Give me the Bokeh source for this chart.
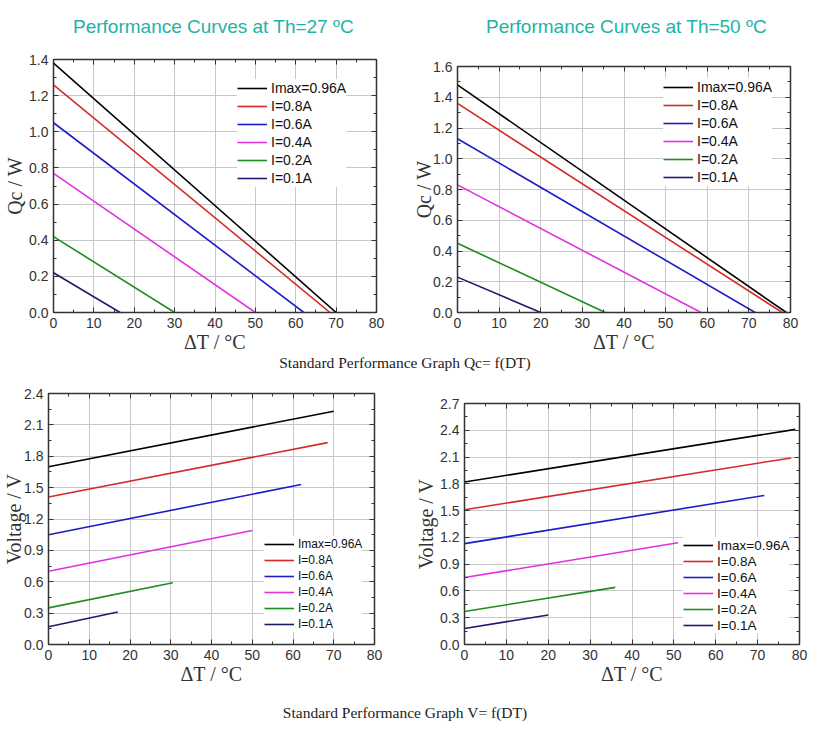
from bokeh.plotting import figure
from bokeh.layouts import column, row
from bokeh.models import (Range1d, FixedTicker, Legend, LegendItem, Div,
                          LinearAxis, PrintfTickFormatter, CustomJSTickFormatter)
from bokeh.embed import file_html
from bokeh.resources import INLINE

# ---------------- data ----------------
series_labels = ["Imax=0.96A", "I=0.8A", "I=0.6A", "I=0.4A", "I=0.2A", "I=0.1A"]
series_colors = ["#000000", "#d42a2a", "#1c1cc8", "#e030e0", "#1e8c1e", "#1a1a6e"]

# Qc = f(DT), Th = 27 C : Qc at DT=0 and DT where Qc reaches 0
qc0_27 = [1.38, 1.26, 1.05, 0.77, 0.42, 0.22]
qc_dtmax_27 = [70, 68.5, 62, 50, 30, 16.5]
# Qc = f(DT), Th = 50 C
qc0_50 = [1.48, 1.36, 1.13, 0.83, 0.45, 0.23]
qc_dtmax_50 = [79, 78, 71.5, 58.5, 35.5, 20]

# V = f(DT), Th = 27 C : voltage at DT=0 and at the end DT
v0_27 = [1.70, 1.41, 1.05, 0.70, 0.35, 0.17]
v1_27 = [2.23, 1.93, 1.53, 1.09, 0.59, 0.31]
v_dtmax_27 = [70, 68.5, 62, 50, 30.5, 17]
# V = f(DT), Th = 50 C
v0_50 = [1.82, 1.51, 1.13, 0.75, 0.37, 0.18]
v1_50 = [2.41, 2.09, 1.67, 1.14, 0.64, 0.33]
v_dtmax_50 = [79, 78, 71.6, 51, 36, 20]

x_ticks = [0, 10, 20, 30, 40, 50, 60, 70, 80]
x_minor = [5, 15, 25, 35, 45, 55, 65, 75]
qc27_ticks = [0.0, 0.2, 0.4, 0.6, 0.8, 1.0, 1.2, 1.4]
qc50_ticks = [0.0, 0.2, 0.4, 0.6, 0.8, 1.0, 1.2, 1.4, 1.6]
v27_ticks = [0.0, 0.3, 0.6, 0.9, 1.2, 1.5, 1.8, 2.1, 2.4]
v50_ticks = [0.0, 0.3, 0.6, 0.9, 1.2, 1.5, 1.8, 2.1, 2.4, 2.7]

titles = ["Performance Curves at Th=27 \u00baC", "Performance Curves at Th=50 \u00baC"]
captions = ["Standard Performance Graph Qc= f(DT)", "Standard Performance Graph V= f(DT)"]

SANS = "Liberation Sans"
SERIF = "Liberation Serif"


def midpoints(t):
    return [(a + b) / 2 for a, b in zip(t[:-1], t[1:])]


def make_panel(width, height, borders, ymax, yticks, ylabel, xs_list, ys_list,
               legend_loc, legend_font, row_h, ylabel_standoff=0):
    bl, br, bt, bb = borders
    p = figure(width=width, height=height, output_backend="svg", toolbar_location=None,
               x_range=Range1d(0, 80), y_range=Range1d(0, ymax),
               min_border_left=bl, min_border_right=br,
               min_border_top=bt, min_border_bottom=bb)
    p.background_fill_color = "white"
    p.border_fill_color = "white"
    p.outline_line_color = "#333333"
    p.outline_line_width = 1.5

    xt = FixedTicker(ticks=x_ticks, minor_ticks=x_minor)
    yt = FixedTicker(ticks=yticks, minor_ticks=midpoints(yticks))
    xa = p.below[0]
    ya = p.left[0]
    xa.ticker = xt
    ya.ticker = yt
    p.xgrid.ticker = xt
    p.ygrid.ticker = yt
    ya.formatter = PrintfTickFormatter(format="%.1f")
    for ax in (xa, ya):
        ax.major_tick_in = 5
        ax.major_tick_out = 0
        ax.minor_tick_in = 3
        ax.minor_tick_out = 0
        ax.major_tick_line_color = "#333333"
        ax.minor_tick_line_color = "#333333"
        ax.axis_line_color = "#333333"
        ax.major_label_text_font = SANS
        ax.major_label_text_font_size = "14px"
        ax.major_label_text_color = "#333333"
        ax.major_label_standoff = 5
        ax.axis_label_text_font = SERIF
        ax.axis_label_text_font_size = "20px"
        ax.axis_label_text_font_style = "normal"
        ax.axis_label_text_color = "#333333"
        ax.axis_label_standoff = 0
    ya.axis_label_standoff = ylabel_standoff
    xa.axis_label = "\u0394T / \u00b0C"
    ya.axis_label = ylabel

    # mirrored tick marks on top and right
    for loc, tk in (("above", xt), ("right", yt)):
        ax2 = LinearAxis(ticker=tk, formatter=CustomJSTickFormatter(code="return ''"),
                         major_label_text_font_size="1px",
                         major_label_standoff=0, axis_line_color=None,
                         major_tick_in=5, major_tick_out=0, minor_tick_in=3,
                         minor_tick_out=0, major_tick_line_color="#333333",
                         minor_tick_line_color="#333333")
        p.add_layout(ax2, loc)

    p.xgrid.grid_line_color = "#c8c8c8"
    p.ygrid.grid_line_color = "#c8c8c8"
    p.xgrid.grid_line_width = 1
    p.ygrid.grid_line_width = 1

    items = []
    for lab, col, xs, ys in zip(series_labels, series_colors, xs_list, ys_list):
        r = p.line(xs, ys, line_color=col, line_width=1.6)
        items.append(LegendItem(label=lab, renderers=[r]))
    leg = Legend(items=items, location=legend_loc, border_line_color=None,
                 background_fill_color="white", background_fill_alpha=1.0,
                 glyph_width=30, glyph_height=row_h, label_height=row_h,
                 spacing=0, padding=4, margin=0, label_standoff=4,
                 label_text_font=SANS, label_text_font_size=legend_font,
                 label_text_color="#111111")
    p.add_layout(leg)
    return p


# Qc panels
xs_qc27 = [[0, d] for d in qc_dtmax_27]
ys_qc27 = [[q, 0] for q in qc0_27]
xs_qc50 = [[0, d] for d in qc_dtmax_50]
ys_qc50 = [[q, 0] for q in qc0_50]
xs_v27 = [[0, d] for d in v_dtmax_27]
ys_v27 = [[a, b] for a, b in zip(v0_27, v1_27)]
xs_v50 = [[0, d] for d in v_dtmax_50]
ys_v50 = [[a, b] for a, b in zip(v0_50, v1_50)]

TITLE_H = 46
p1 = make_panel(410, 355 - TITLE_H, (53, 34, 59 - TITLE_H, 43), 1.4, qc27_ticks, "Qc / W",
                xs_qc27, ys_qc27, (184, 125), "14px", 18)
p2 = make_panel(415, 355 - TITLE_H, (47, 35, 66 - TITLE_H, 40), 1.6, qc50_ticks, "Qc / W",
                xs_qc50, ys_qc50, (206, 126), "14px", 18, ylabel_standoff=-5)
p3 = make_panel(410, 316, (48, 36, 22, 41), 2.4, v27_ticks, "Voltage / V",
                xs_v27, ys_v27, (216, 12), "12px", 16, ylabel_standoff=-4)
p4 = make_panel(415, 316, (54, 26, 32, 43), 2.7, v50_ticks, "Voltage / V",
                xs_v50, ys_v50, (219, 11), "13.5px", 16)


def title_div(text, width, pad_left):
    html = ('<div style="padding-top:8px; line-height:38px; text-align:left; '
            'padding-left:%dpx; font-family:\'%s\'; font-size:19px; color:#1db3a6; '
            'white-space:nowrap;">%s</div>' % (pad_left, SANS, text))
    return Div(text=html, width=width, height=TITLE_H,
               styles={"margin": "0", "padding": "0"})


t1 = title_div(titles[0], 410, 73)
t2 = title_div(titles[1], 415, 76)

cap_style = {"text-align": "center", "font-family": SERIF, "font-size": "15.5px",
             "color": "#222222", "margin": "0", "padding": "0"}
c1 = Div(text=captions[0], width=810, height=16,
         styles=dict(cap_style, **{"line-height": "16px"}))
c2 = Div(text=captions[1], width=810, height=52,
         styles=dict(cap_style, **{"line-height": "52px"}))

layout = column(row(t1, t2, spacing=0),
                row(column(p1), column(p2), spacing=0), c1,
                row(column(p3), column(p4), spacing=0), c2, spacing=0)

open("out.html", "w").write(file_html(layout, INLINE))
